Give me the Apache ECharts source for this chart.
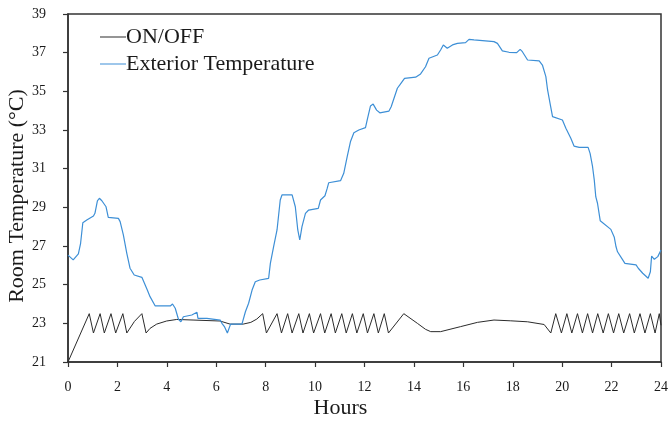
<!DOCTYPE html>
<html>
<head>
<meta charset="utf-8">
<title>Room Temperature</title>
<script src="https://cdn.jsdelivr.net/npm/echarts@6/dist/echarts.min.js"></script>
<style>
  html, body { margin: 0; padding: 0; background: #fff; }
  #chart { width: 669px; height: 424px; }
</style>
</head>
<body>
<div id="chart"></div>
<script>
// Axis ticks
const hourTicks = [0, 2, 4, 6, 8, 10, 12, 14, 16, 18, 20, 22, 24];
const tempTicks = [21, 23, 25, 27, 29, 31, 33, 35, 37, 39];

// Thermostat (ON/OFF) controlled room temperature
const onOffHours = [0, 0.86, 1.03, 1.30, 1.47, 1.74, 1.93, 2.22, 2.38, 2.69, 2.99, 3.16, 3.32, 3.59, 3.99, 4.4, 5.06, 6.15, 6.56, 7.09, 7.4, 7.64, 7.88,
  8.03, 8.46, 8.64, 8.89, 9.07, 9.34, 9.51, 9.77, 9.94, 10.22, 10.39, 10.65, 10.82, 11.08, 11.26, 11.51, 11.69, 11.95, 12.12, 12.38, 12.56, 12.8, 12.97, 13.59,
  14.14, 14.47, 14.68, 15.08, 15.89, 16.57, 17.24, 17.92, 18.6, 19.27,
  19.54, 19.74, 19.97, 20.19, 20.39, 20.62, 20.82, 21.03, 21.23, 21.44, 21.66, 21.87, 22.08, 22.29, 22.49, 22.73, 22.92, 23.15, 23.35, 23.57, 23.76, 23.93, 24];
const onOffTemps = [21, 23.5, 22.5, 23.5, 22.5, 23.5, 22.5, 23.5, 22.5, 23.1, 23.5, 22.5, 22.74, 22.96, 23.12, 23.2, 23.17, 23.12, 22.96, 22.96, 23.05, 23.22, 23.5,
  22.5, 23.5, 22.5, 23.5, 22.5, 23.5, 22.5, 23.5, 22.5, 23.5, 22.5, 23.5, 22.5, 23.5, 22.5, 23.5, 22.5, 23.5, 22.5, 23.5, 22.5, 23.5, 22.5, 23.5,
  23.0, 22.69, 22.57, 22.57, 22.83, 23.05, 23.17, 23.13, 23.08, 22.94,
  22.5, 23.5, 22.5, 23.5, 22.5, 23.5, 22.5, 23.5, 22.5, 23.5, 22.5, 23.5, 22.5, 23.5, 22.5, 23.5, 22.5, 23.5, 22.5, 23.5, 22.5, 23.5, 22.9];

// Exterior temperature over the day
const extHours = [0, 0.08, 0.21, 0.42, 0.51, 0.6, 0.76, 1.03, 1.09, 1.19, 1.27, 1.37, 1.54, 1.63, 2.04, 2.11, 2.24, 2.38, 2.51, 2.68, 2.99, 3.05, 3.21, 3.32, 3.53,
  4.14, 4.23, 4.34, 4.47, 4.57, 4.67, 5.01, 5.22, 5.26, 5.62, 6.16, 6.23, 6.33, 6.45, 6.58, 7.04, 7.18, 7.31, 7.45, 7.58, 7.76,
  8.12, 8.19, 8.32, 8.46, 8.59, 8.66, 9.07, 9.2, 9.3, 9.38, 9.47, 9.61, 9.74, 10.13, 10.22, 10.4, 10.49, 10.55, 11.03, 11.16, 11.3, 11.43, 11.57, 11.77,
  12.04, 12.11, 12.24, 12.35, 12.49, 12.62, 12.99, 13.08, 13.33, 13.43, 13.62, 14.07, 14.27, 14.47, 14.61, 14.95, 15.08, 15.19, 15.35, 15.56, 15.76,
  16.09, 16.23, 16.43, 17.24, 17.38, 17.58, 17.85, 18.16, 18.3, 18.39, 18.6, 19.07, 19.2, 19.34, 19.41, 19.51, 19.61, 20.01, 20.15, 20.35, 20.48, 20.69,
  21.05, 21.13, 21.23, 21.3, 21.36, 21.43, 21.54, 21.97, 22.11, 22.18, 22.24, 22.45, 22.54, 22.99, 23.08, 23.26, 23.48, 23.57, 23.62, 23.73, 23.87, 24];
const extTemps = [26.53, 26.48, 26.28, 26.59, 27.14, 28.2, 28.34, 28.55, 28.69, 29.34, 29.47, 29.34, 29.03, 28.48, 28.43, 28.26, 27.57, 26.62, 25.85, 25.5, 25.38, 25.28, 24.72, 24.38, 23.9,
  23.9, 24.0, 23.78, 23.21, 23.08, 23.34, 23.43, 23.57, 23.26, 23.26, 23.17, 23.0, 22.83, 22.5, 22.96, 22.96, 23.6, 24.04, 24.72, 25.15, 25.24,
  25.33, 26.1, 26.96, 27.83, 29.38, 29.64, 29.64, 29.03, 27.83, 27.31, 28.0, 28.69, 28.86, 28.95, 29.38, 29.6, 29.98, 30.27, 30.38, 30.76, 31.62, 32.39, 32.86, 33.0,
  33.12, 33.52, 34.24, 34.34, 34.03, 33.89, 33.98, 34.2, 35.16, 35.33, 35.67, 35.73, 35.9, 36.27, 36.71, 36.88, 37.14, 37.4, 37.23, 37.4, 37.48,
  37.52, 37.69, 37.66, 37.57, 37.48, 37.09, 37.02, 37.0, 37.17, 37.05, 36.62, 36.58, 36.36, 35.76, 35.07, 34.38, 33.69, 33.52, 33.09, 32.57, 32.17, 32.1,
  32.1, 31.79, 31.1, 30.41, 29.55, 29.21, 28.31, 27.86, 27.45, 26.96, 26.7, 26.28, 26.1, 26.02, 25.85, 25.59, 25.33, 25.67, 26.48, 26.31, 26.45, 26.79];

const zip = (xs, ys) => xs.map((x, i) => [x, ys[i]]);

const serif = 'Liberation Serif';
const ink = '#1a1a1a';

const chart = echarts.init(document.getElementById('chart'), null, { renderer: 'canvas' });

chart.setOption({
  backgroundColor: '#ffffff',
  animation: false,
  grid: {
    left: 68, right: 8, top: 14, bottom: 62,
    outerBoundsMode: 'none',
    containLabel: false,
    show: true, borderColor: '#333', borderWidth: 1.5, backgroundColor: 'transparent'
  },
  legend: {
    orient: 'vertical',
    left: 95, top: 21,
    itemWidth: 26, itemHeight: 1,
    itemGap: 5,
    icon: 'rect',
    textStyle: { fontFamily: serif, fontSize: 22, color: ink, padding: [0, 0, 0, -5], lineHeight: 22 },
    data: ['ON/OFF', 'Exterior Temperature']
  },
  xAxis: {
    type: 'value',
    min: hourTicks[0], max: hourTicks[hourTicks.length - 1], interval: 2,
    name: 'Hours',
    nameLocation: 'middle',
    nameGap: 35,
    nameMoveOverlap: false,
    nameTextStyle: { fontFamily: serif, fontSize: 22, color: ink, padding: [0, 48, 0, 0] },
    axisLine: { show: true, lineStyle: { color: '#333', width: 1.5 } },
    axisTick: { show: true, length: 5, lineStyle: { color: '#333', width: 1.2 } },
    axisLabel: { fontFamily: serif, fontSize: 14, color: ink, margin: 18,
      formatter: v => hourTicks.includes(v) ? String(v) : '' },
    splitLine: { show: false }
  },
  yAxis: {
    type: 'value',
    min: tempTicks[0], max: tempTicks[tempTicks.length - 1], interval: 2,
    name: 'Room Temperature (°C)',
    nameLocation: 'middle',
    nameGap: 40,
    nameMoveOverlap: false,
    nameTextStyle: { fontFamily: serif, fontSize: 22, color: ink, padding: [0, 16, 0, 0] },
    axisLine: { show: true, lineStyle: { color: '#333', width: 1.5 } },
    axisTick: { show: true, length: 5, lineStyle: { color: '#333', width: 1.2 } },
    axisLabel: { fontFamily: serif, fontSize: 14, color: ink, margin: 22,
      formatter: v => tempTicks.includes(v) ? String(v) : '' },
    splitLine: { show: false }
  },
  series: [
    {
      name: 'ON/OFF',
      type: 'line',
      data: zip(onOffHours, onOffTemps),
      showSymbol: false,
      color: '#2b2b2b',
      lineStyle: { color: '#2b2b2b', width: 1 }
    },
    {
      name: 'Exterior Temperature',
      type: 'line',
      data: zip(extHours, extTemps),
      showSymbol: false,
      color: '#3d8fd6',
      lineStyle: { color: '#3d8fd6', width: 1.2 }
    }
  ]
});
</script>
</body>
</html>
